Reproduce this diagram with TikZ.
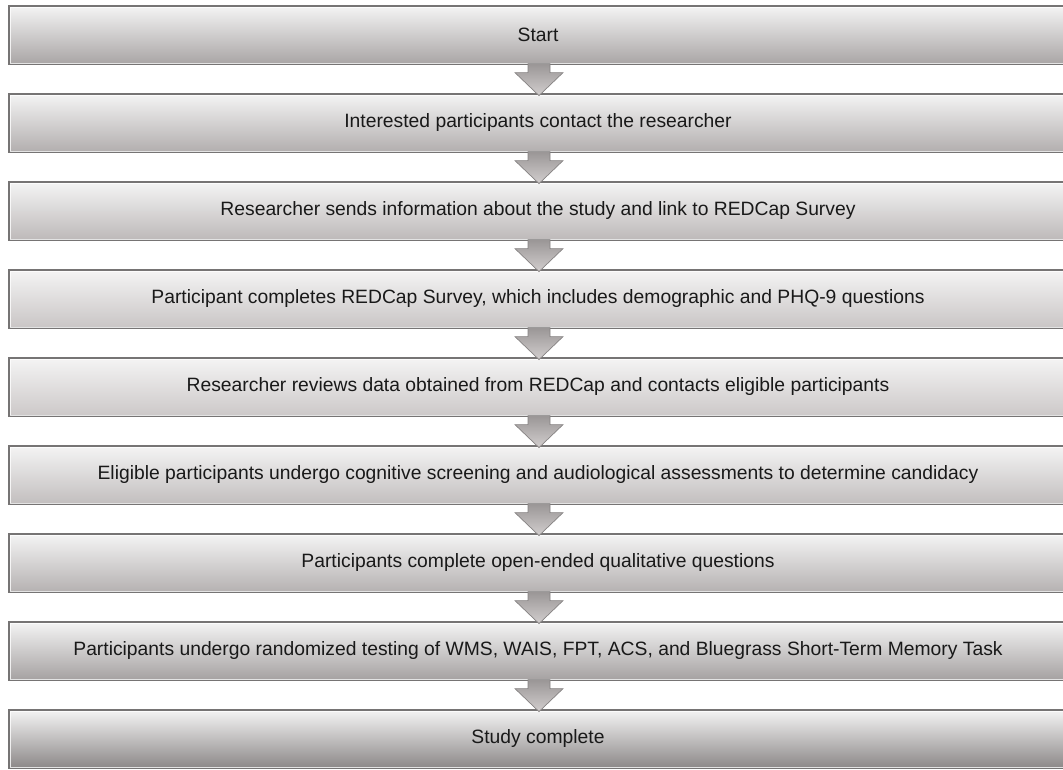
\documentclass[tikz,border=0pt]{standalone}
\usepackage{fontspec}
\setmainfont{Liberation Sans}
\usetikzlibrary{calc}
\definecolor{boxline}{HTML}{767474}
\definecolor{boxtop}{HTML}{F4F4F4}
\definecolor{arrowline}{HTML}{858282}
\definecolor{arrowtop}{HTML}{9A9696}
\definecolor{arrowbot}{HTML}{D2CECE}
\definecolor{shadeA}{HTML}{A9A5A5}
\definecolor{shadeB}{HTML}{B2AEAE}
\definecolor{shadeC}{HTML}{BDB9B9}
\definecolor{shadeD}{HTML}{C9C5C5}
\definecolor{shadeE}{HTML}{CCC8C8}
\definecolor{shadeF}{HTML}{C2BEBE}
\definecolor{shadeG}{HTML}{B5B1B1}
\definecolor{shadeH}{HTML}{A5A1A1}
\definecolor{shadeI}{HTML}{8C8888}
\tikzset{
  x=1pt, y=1pt,
  stepbox/.style={minimum width=1058pt, minimum height=58pt, inner sep=0pt,
    draw=boxline, line width=1.3pt, top color=boxtop, bottom color=#1,
    text=black!90, font=\fontsize{19.3}{23}\selectfont},
  flowarrow/.style={draw=arrowline, line width=0.7pt, line join=miter,
    top color=arrowtop, bottom color=arrowbot},
  highlight/.style={draw=white, line width=0.6pt, opacity=0.8}
}
\newcommand\stepdown[1]{%
  \draw[flowarrow] ($(#1.south)+(-10,1)$) -- ++(0,-9) -- ++(-13,0)
    -- ($(#1.south)+(1,-31)$) -- ($(#1.south)+(25,-8)$) -- ++(-13,0)
    -- ($(#1.south)+(12,1)$) -- cycle;}
\begin{document}
\begin{tikzpicture}
\useasboundingbox (0,0) rectangle (1063,770);
\node[stepbox=shadeA] (s1) at (538,735) {Start};
\node[stepbox=shadeB] (s2) at (538,647) {Interested participants contact the researcher};
\node[stepbox=shadeC] (s3) at (538,559) {Researcher sends information about the study and link to REDCap Survey};
\node[stepbox=shadeD] (s4) at (538,471) {Participant completes REDCap Survey, which includes demographic and PHQ-9 questions};
\node[stepbox=shadeE] (s5) at (538,383) {Researcher reviews data obtained from REDCap and contacts eligible participants};
\node[stepbox=shadeF] (s6) at (538,295) {Eligible participants undergo cognitive screening and audiological assessments to determine candidacy};
\node[stepbox=shadeG] (s7) at (538,207) {Participants complete open-ended qualitative questions};
\node[stepbox=shadeH] (s8) at (538,119) {Participants undergo randomized testing of WMS, WAIS, FPT, ACS, and Bluegrass Short-Term Memory Task};
\node[stepbox=shadeI] (s9) at (538,31) {Study complete};
\foreach \n in {s1,s2,s3,s4,s5,s6,s7,s8,s9}{
  \draw[highlight] ($(\n.north west)+(1.6,-1.6)$) rectangle ($(\n.south east)+(-1.6,1.6)$);
}
\foreach \n in {s1,s2,s3,s4,s5,s6,s7,s8}{
  \stepdown{\n}
}
\end{tikzpicture}
\end{document}
